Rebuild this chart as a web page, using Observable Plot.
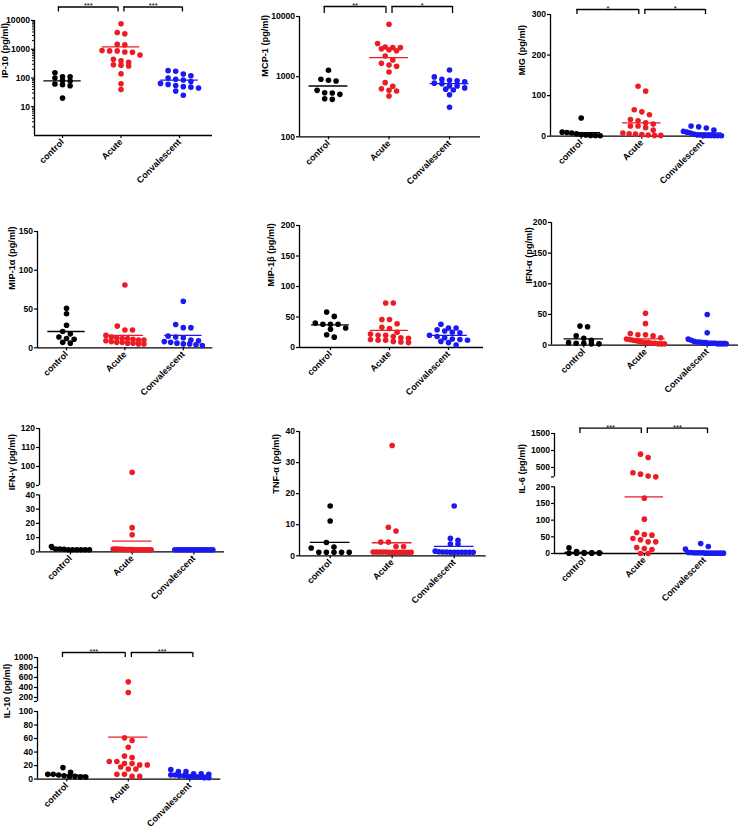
<!DOCTYPE html>
<html><head><meta charset="utf-8">
<script src="https://cdn.jsdelivr.net/npm/d3@7"></script>
<script src="https://cdn.jsdelivr.net/npm/@observablehq/plot@0.6"></script>
<style>
body{margin:0;background:#fff;}
#c{position:relative;width:738px;height:830px;overflow:hidden;background:#fff;}
#c svg{position:absolute;}
</style></head><body><div id="c"></div>
<script>
// ---------- data ----------
const groups = ["control", "Acute", "Convalescent"];
const groupColors = ["#000000", "#ec1c24", "#1a1aef"];

const ip10Control = [153, 111, 111, 100, 81, 79, 62, 58, 54, 20];
const ip10Acute = [7660, 3810, 3430, 1494, 1416, 900, 875, 875, 807, 786, 630, 448, 400, 350, 290, 280, 260, 140, 63, 40];
const ip10Conv = [180, 171, 138, 120, 100, 90, 85, 75, 65, 60, 55, 50, 48, 45, 35, 25];
const ip10Mean = [79, 1200, 85];
const ip10Ticks = [10, 100, 1000, 10000];
const ip10Brackets = [["control", "Acute", "***"], ["Acute", "Convalescent", "***"]];

const mcp1Control = [1276, 903, 869, 847, 592, 540, 534, 508, 430, 419];
const mcp1Acute = [7450, 3550, 3120, 3040, 3040, 2900, 2800, 2700, 2208, 1900, 1668, 1565, 1486, 1196, 795, 691, 631, 592, 577, 477];
const mcp1Conv = [1290, 990, 900, 870, 850, 820, 780, 760, 700, 700, 650, 620, 600, 500, 310];
const mcp1Mean = [699, 2073, 764];
const mcp1Ticks = [100, 1000, 10000];
const mcp1Brackets = [["control", "Acute", "**"], ["Acute", "Convalescent", "*"]];

const migControl = [45, 10, 9, 8, 6, 4, 3, 2, 2, 1];
const migAcute = [123, 111, 65, 60, 53, 41, 38, 33, 30, 25, 25, 21, 15, 8, 6, 5, 4, 3, 2, 2];
const migConv = [25, 23, 20, 15, 12, 10, 8, 5, 3, 3, 2, 2, 2, 1, 1, 1];
const migMean = [9, 33, 8];
const migTicks = [0, 100, 200, 300];
const migBrackets = [["control", "Acute", "*"], ["Acute", "Convalescent", "*"]];

const mip1aControl = [51, 44, 29, 21, 18, 14, 12, 11, 7, 6];
const mip1aAcute = [81, 28, 23, 23, 16, 14, 13, 12, 12, 11, 10, 10, 9, 8, 7, 7, 6, 6, 5, 5];
const mip1aConv = [60, 30, 26, 26, 15, 14, 13, 10, 9, 8, 7, 6, 5, 5, 4, 3];
const mip1aMean = [21, 16, 16];
const mip1aTicks = [0, 50, 100, 150];

const mip1bControl = [58, 51, 40, 38, 38, 38, 32, 30, 21, 17];
const mip1bAcute = [73, 73, 46, 46, 39, 33, 31, 25, 22, 20, 20, 18, 16, 15, 13, 12, 12, 10, 9, 8];
const mip1bConv = [38, 32, 32, 29, 27, 25, 24, 20, 18, 16, 14, 13, 12, 10, 8, 4];
const mip1bMean = [37, 28, 20];
const mip1bTicks = [0, 50, 100, 150, 200];

const ifnaControl = [31, 30, 15, 11, 8, 4, 3, 3, 2, 2];
const ifnaAcute = [52, 35, 19, 17, 17, 15, 12, 10, 9, 8, 7, 6, 5, 4, 4, 3, 3, 2, 2, 2];
const ifnaConv = [50, 20, 10, 8, 6, 5, 5, 4, 4, 3, 3, 3, 2, 2, 2, 2];
const ifnaMean = [10, 10, 6];
const ifnaTicks = [0, 50, 100, 150, 200];

const ifngControl = [3.7, 2, 2, 1.8, 1.5, 1.5, 1.5, 1.5, 1.5, 1.5];
const ifngAcute = [97, 17, 12, 2, 2, 2, 1.8, 1.8, 1.6, 1.6, 1.6, 1.6, 1.5, 1.5, 1.5, 1.5, 1.5, 1.5, 1.5, 1.5];
const ifngConv = [1.5, 1.5, 1.5, 1.5, 1.5, 1.5, 1.5, 1.5, 1.5, 1.5, 1.5, 1.5, 1.5, 1.5, 1.5, 1.5];
const ifngMean = [1.6, 7.5, 1.5];
const ifngTicks = [0, 10, 20, 30, 40, 90, 100, 110, 120];

const tnfControl = [16, 11.2, 4.3, 2.8, 2.5, 1.1, 1.1, 1.1, 1.1, 1.1];
const tnfAcute = [35.5, 9.2, 8, 4.4, 4.4, 3, 3, 1.2, 1.2, 1.2, 1.2, 1.2, 1.1, 1.1, 1.1, 1.1, 1.1, 1.1, 1.1, 1.1];
const tnfConv = [16, 5.6, 5, 3.8, 3.8, 1.5, 1.3, 1.2, 1.2, 1.1, 1.1, 1.1, 1.1, 1.1, 1.1, 1.1];
const tnfMean = [4.3, 4.2, 3.0];
const tnfTicks = [0, 10, 20, 30, 40];

const il6Control = [17, 6, 3, 2, 2, 1, 1, 1, 1, 1];
const il6Acute = [892, 794, 343, 304, 247, 225, 166, 103, 63, 57, 55, 45, 41, 35, 35, 18, 15, 12, 0, 0];
const il6Conv = [30, 21, 13, 3, 3, 2, 2, 2, 2, 1, 1, 1, 1, 1, 1, 1];
const il6Mean = [3, 170, 5];
const il6Ticks = [0, 50, 100, 150, 200, 500, 1000, 1500];
const il6Brackets = [["control", "Acute", "***"], ["Acute", "Convalescent", "***"]];

const il10Control = [17, 10, 7, 7, 6, 5, 4, 4, 3, 3];
const il10Acute = [513, 300, 61, 57, 47, 34, 32, 26, 26, 23, 23, 21, 21, 18, 15, 15, 7, 7, 4, 4];
const il10Conv = [14, 11, 11, 8, 8, 7, 6, 6, 5, 5, 4, 4, 3, 3, 2, 2];
const il10Mean = [6, 62, 6];
const il10Ticks = [0, 20, 40, 60, 80, 100, 200, 400, 600, 800, 1000];
const il10Brackets = [["control", "Acute", "***"], ["Acute", "Convalescent", "***"]];

// ---------- layout ----------
const panels = [
  {label: "IP-10 (pg/ml)", values: [ip10Control, ip10Acute, ip10Conv], means: ip10Mean, ticks: ip10Ticks,
   type: "log", domain: [1, 10000], minor: true, x0: 34, x1: 212, yTop: 20, yBot: 135, xd: [-0.479, 2.564], labelOff: 29,
   brackets: ip10Brackets, rise: 13.5, drop: 5},
  {label: "MCP-1 (pg/ml)", values: [mcp1Control, mcp1Acute, mcp1Conv], means: mcp1Mean, ticks: mcp1Ticks,
   type: "log", domain: [100, 10000], x0: 299, x1: 480, yTop: 15.7, yBot: 136, xd: [-0.479, 2.512], labelOff: 34,
   brackets: mcp1Brackets, rise: 10, drop: 7},
  {label: "MIG (pg/ml)", values: [migControl, migAcute, migConv], means: migMean, ticks: migTicks,
   type: "linear", domain: [0, 300], x0: 550, x1: 722, yTop: 14.3, yBot: 136, xd: [-0.506, 2.33], labelOff: 28,
   brackets: migBrackets, rise: 5, drop: 5},
  {label: "MIP-1α (pg/ml)", values: [mip1aControl, mip1aAcute, mip1aConv], means: mip1aMean, ticks: mip1aTicks,
   type: "linear", domain: [0, 150], x0: 36.7, x1: 212, yTop: 230.7, yBot: 347, xd: [-0.497, 2.505], labelOff: 25},
  {label: "MIP-1β (pg/ml)", values: [mip1bControl, mip1bAcute, mip1bConv], means: mip1bMean, ticks: mip1bTicks,
   type: "linear", domain: [0, 200], x0: 299, x1: 483, yTop: 225, yBot: 347, xd: [-0.525, 2.593], labelOff: 28},
  {label: "IFN-α (pg/ml)", values: [ifnaControl, ifnaAcute, ifnaConv], means: ifnaMean, ticks: ifnaTicks,
   type: "linear", domain: [0, 200], x0: 551, x1: 738, yTop: 221.7, yBot: 344.3, xd: [-0.523, 2.507], labelOff: 22},
  {label: "IFN-γ (pg/ml)", values: [ifngControl, ifngAcute, ifngConv], means: ifngMean, ticks: ifngTicks,
   type: "broken", segments: [{d: [0, 40], r: [551.7, 494.7]}, {d: [90, 120], r: [485.3, 428.3]}],
   x0: 39, x1: 224, yTop: 428.3, yBot: 551.7, xd: [-0.502, 2.497], labelOff: 27},
  {label: "TNF-α (pg/ml)", values: [tnfControl, tnfAcute, tnfConv], means: tnfMean, ticks: tnfTicks,
   type: "linear", domain: [0, 40], x0: 299.3, x1: 486, yTop: 430.7, yBot: 555, xd: [-0.495, 2.516], labelOff: 23},
  {label: "IL-6 (pg/ml)", values: [il6Control, il6Acute, il6Conv], means: il6Mean, ticks: il6Ticks,
   type: "broken", segments: [{d: [0, 200], r: [552.7, 486]}, {d: [220, 1500], r: [476.2, 432.7]}],
   x0: 554, x1: 723, yTop: 432.7, yBot: 552.7, xd: [-0.493, 2.316], labelOff: 32,
   brackets: il6Brackets, rise: 5.4, drop: 5.5},
  {label: "IL-10 (pg/ml)", values: [il10Control, il10Acute, il10Conv], means: il10Mean, ticks: il10Ticks,
   type: "broken", segments: [{d: [0, 100], r: [778.3, 710.7]}, {d: [120, 1000], r: [700.7, 656.7]}],
   x0: 36.7, x1: 220, yTop: 656.7, yBot: 778.3, xd: [-0.476, 2.504], labelOff: 30,
   brackets: il10Brackets, rise: 5, drop: 5}
];

const FONT = "'Liberation Sans', Arial, Helvetica, sans-serif";

function swarm(values, yScale, pxPerUnit) {
  const out = [];
  values.forEach((grp, g) => {
    const pts = grp.map(v => ({g, v, py: yScale.apply(v)})).sort((a, b) => a.py - b.py);
    let i = 0;
    while (i < pts.length) {
      const start = pts[i].py;
      let j = i;
      while (j < pts.length && pts[j].py - start < 5.2) j++;
      const row = pts.slice(i, j), n = row.length;
      const sp = n > 1 ? Math.min(7.6, 38 / (n - 1)) : 0;
      row.forEach((p, k) => { p.x = g + ((k - (n - 1) / 2) * sp) / pxPerUnit; out.push(p); });
      i = j;
    }
  });
  return out;
}

function panel(cfg) {
  const mL = 45, mR = 12, mT = 24, mB = 64;
  const W = cfg.x1 - cfg.x0, H = cfg.yBot - cfg.yTop;
  const width = W + mL + mR, height = H + mT + mB;
  const top = cfg.yTop - mT, left = cfg.x0 - mL;
  let yOpt, segs;
  if (cfg.type === "broken") {
    yOpt = {type: "linear", domain: cfg.segments.flatMap(s => s.d), range: cfg.segments.flatMap(s => s.r.map(p => p - top))};
    segs = cfg.segments.map(s => s.d);
  } else {
    yOpt = {type: cfg.type, domain: cfg.domain, range: [mT + H, mT]};
    segs = [cfg.domain];
  }
  const yMin = segs[0][0], yMax = segs[segs.length - 1][1];
  const yScale = Plot.scale({y: yOpt});
  const pxPerUnit = W / (cfg.xd[1] - cfg.xd[0]);
  const pts = swarm(cfg.values, yScale, pxPerUnit);
  const means = cfg.means.map((m, g) => ({g, m}));

  const marks = [
    Plot.ruleX(segs, {x: () => cfg.xd[0], y1: s => s[0], y2: s => s[1], strokeWidth: 1.3}),
    Plot.ruleY([yMin], {x1: cfg.xd[0], x2: cfg.xd[1], strokeWidth: 1.3}),
    Plot.axisY(cfg.ticks, {anchor: "left", tickSize: 3, tickPadding: 1.5, fontSize: 8.6, fontWeight: "bold",
      tickFormat: d => String(d), label: null, strokeWidth: 1.2}),
    Plot.axisX([0, 1, 2], {anchor: "bottom", tickSize: 3, tickPadding: 2, tickRotate: -45, fontSize: 9, fontWeight: "bold",
      tickFormat: i => groups[i], label: null, strokeWidth: 1.2}),
    Plot.text([cfg.label], {text: d => d, frameAnchor: "left", dx: -cfg.labelOff, rotate: -90, fontSize: 9.2, fontWeight: "bold"}),
    Plot.dot(pts, {x: "x", y: "v", r: 2.8, fill: d => groups[d.g], stroke: "none"}),
    Plot.ruleY(means, {y: "m", x1: d => d.g - 0.32, x2: d => d.g + 0.32, stroke: d => groups[d.g], strokeWidth: 1.3})
  ];
  if (cfg.minor) {
    const minor = d3.range(0, 4).flatMap(e => d3.range(2, 10).map(k => k * 10 ** e));
    marks.push(Plot.axisY(minor, {anchor: "left", tickSize: 2, tickFormat: () => "", label: null, strokeWidth: 1}));
  }
  if (segs.length > 1) {
    const breakEnds = segs.slice(1).map(s => s[0]).filter(v => !cfg.ticks.includes(v));
    if (breakEnds.length) marks.push(Plot.axisY(breakEnds, {anchor: "left", tickSize: 3, tickFormat: () => "", label: null, strokeWidth: 1.2}));
  }
  if (cfg.brackets) {
    const br = cfg.brackets.map(([a, b, lab]) => {
      const ia = groups.indexOf(a), ib = groups.indexOf(b);
      const x1 = ia + (ia === 1 ? 0.05 : -0.07), x2 = ib + (ib === 1 ? -0.05 : 0.05);
      return {x1, x2, xm: (x1 + x2) / 2, lab};
    });
    const ends = br.flatMap(d => [{x: d.x1}, {x: d.x2}]);
    marks.push(
      Plot.ruleY(br, {y: () => yMax, x1: "x1", x2: "x2", dy: -cfg.rise, strokeWidth: 1.3}),
      Plot.ruleX(ends, {x: "x", y1: () => yMax, y2: () => yMax, insetTop: -cfg.rise, insetBottom: cfg.rise - cfg.drop, strokeWidth: 1.3}),
      Plot.text(br, {x: "xm", y: () => yMax, dy: -(cfg.rise + 1), text: "lab", lineAnchor: "middle", fontSize: 7.5, fontWeight: "normal"})
    );
  }
  const svg = Plot.plot({
    width, height, marginLeft: mL, marginRight: mR, marginTop: mT, marginBottom: mB,
    x: {type: "linear", domain: cfg.xd, range: [mL, mL + W], axis: null},
    y: {...yOpt, axis: null},
    color: {domain: groups, range: groupColors},
    style: {background: "transparent", overflow: "visible", fontFamily: FONT, fontWeight: "bold", color: "#000"},
    marks
  });
  svg.style.left = left + "px";
  svg.style.top = top + "px";
  svg.style.maxWidth = "none";
  return svg;
}

const container = document.getElementById("c");
panels.forEach(p => container.appendChild(panel(p)));
</script>
</body></html>
